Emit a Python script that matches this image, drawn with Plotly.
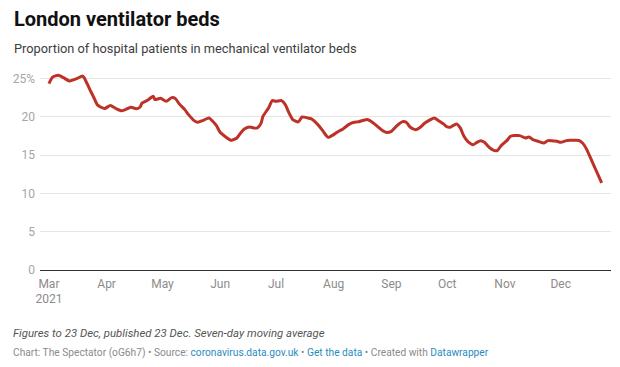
import plotly.graph_objects as go

# ---- data ----
dates = [
    "2021-03-01", "2021-03-03", "2021-03-06", "2021-03-09", "2021-03-12", "2021-03-16",
    "2021-03-19", "2021-03-20", "2021-03-23", "2021-03-25", "2021-03-27", "2021-03-29",
    "2021-03-31", "2021-04-03", "2021-04-06", "2021-04-09", "2021-04-11", "2021-04-14",
    "2021-04-17", "2021-04-19", "2021-04-20", "2021-04-23", "2021-04-26", "2021-04-27",
    "2021-04-30", "2021-05-03", "2021-05-06", "2021-05-08", "2021-05-10", "2021-05-13",
    "2021-05-15", "2021-05-18", "2021-05-20", "2021-05-23", "2021-05-26", "2021-05-28",
    "2021-05-30", "2021-06-01", "2021-06-04", "2021-06-07", "2021-06-10", "2021-06-12",
    "2021-06-14", "2021-06-17", "2021-06-19", "2021-06-21", "2021-06-23", "2021-06-24",
    "2021-06-27", "2021-06-29", "2021-07-01", "2021-07-04", "2021-07-06", "2021-07-08",
    "2021-07-10", "2021-07-13", "2021-07-15", "2021-07-18", "2021-07-20", "2021-07-23",
    "2021-07-26", "2021-07-28", "2021-07-29", "2021-08-01", "2021-08-03", "2021-08-06",
    "2021-08-09", "2021-08-12", "2021-08-14", "2021-08-17", "2021-08-19", "2021-08-21",
    "2021-08-24", "2021-08-27", "2021-08-29", "2021-09-01", "2021-09-04", "2021-09-07",
    "2021-09-09", "2021-09-11", "2021-09-14", "2021-09-16", "2021-09-19", "2021-09-22",
    "2021-09-24", "2021-09-26", "2021-09-29", "2021-10-01", "2021-10-03", "2021-10-06",
    "2021-10-08", "2021-10-10", "2021-10-12", "2021-10-15", "2021-10-17", "2021-10-19",
    "2021-10-21", "2021-10-23", "2021-10-26", "2021-10-28", "2021-10-30", "2021-11-02",
    "2021-11-04", "2021-11-06", "2021-11-09", "2021-11-12", "2021-11-14", "2021-11-16",
    "2021-11-19", "2021-11-22", "2021-11-24", "2021-11-26", "2021-11-29", "2021-12-01",
    "2021-12-04", "2021-12-06", "2021-12-09", "2021-12-11", "2021-12-13", "2021-12-15",
    "2021-12-17", "2021-12-19", "2021-12-21", "2021-12-23",
]
values = [
    24.35, 25.2, 25.44, 25.1, 24.7, 25.0,
    25.36, 25.1, 23.57, 22.6, 21.6, 21.26,
    21.1, 21.48, 21.1, 20.8, 20.95, 21.26,
    21.08, 21.3, 21.8, 22.17, 22.7, 22.26,
    22.43, 22.04, 22.52, 22.39, 21.7, 20.95,
    20.3, 19.52, 19.3, 19.56, 19.87, 19.43,
    18.86, 17.99, 17.38, 16.94, 17.25, 17.9,
    18.43, 18.69, 18.56, 18.56, 19.2, 20.08,
    21.17, 22.13, 22.04, 22.13, 21.6, 20.52,
    19.65, 19.35, 20.0, 19.87, 19.74, 19.12,
    18.25, 17.56, 17.33, 17.69, 18.04, 18.43,
    18.99, 19.3, 19.35, 19.56, 19.65, 19.43,
    18.86, 18.25, 17.99, 18.12, 18.86, 19.39,
    19.3, 18.69, 18.34, 18.55, 19.2, 19.65,
    19.87, 19.56, 19.09, 18.69, 18.69, 19.09,
    18.56, 17.47, 16.81, 16.38, 16.68, 16.9,
    16.68, 16.16, 15.63, 15.63, 16.25, 16.9,
    17.47, 17.56, 17.56, 17.25, 17.38, 17.03,
    16.81, 16.6, 16.9, 16.9, 16.81, 16.68,
    16.9, 16.94, 16.94, 16.9, 16.51, 15.73,
    14.64, 13.54, 12.46, 11.37,
]
tick_dates = ["2021-03-01", "2021-04-01", "2021-05-01", "2021-06-01", "2021-07-01",
              "2021-08-01", "2021-09-01", "2021-10-01", "2021-11-01", "2021-12-01"]
tick_labels = ["Mar<br>2021", "Apr", "May", "Jun", "Jul", "Aug", "Sep", "Oct", "Nov", "Dec"]
y_ticks = [0, 5, 10, 15, 20, 25]
y_tick_labels = ["0", "5", "10", "15", "20", "25%"]

title = "London ventilator beds"
subtitle = "Proportion of hospital patients in mechanical ventilator beds"
note = "Figures to 23 Dec, published 23 Dec. Seven-day moving average"
credit = ("Chart: The Spectator (oG6h7) • Source: "
          "<span style='color:#2a8bc0'>coronavirus.data.gov.uk</span> • "
          "<span style='color:#2a8bc0'>Get the data</span> • Created with "
          "<span style='color:#2a8bc0'>Datawrapper</span>")

# ---- layout geometry ----
W, H = 620, 367
L, R, T, B = 40, 9, 71.4, 96.7
PW, PH = W - L - R, H - T - B
FONT = "Roboto, 'Noto Sans', Arial, sans-serif"


def px(x):
    return (x - L) / PW


def py(y):
    return (H - B - y) / PH


fig = go.Figure()
fig.add_trace(go.Scatter(
    x=dates, y=values, mode="lines",
    line=dict(color="#bd3127", width=3, shape="spline", smoothing=0.6),
    hoverinfo="skip", showlegend=False,
))

fig.update_layout(
    width=W, height=H,
    margin=dict(l=L, r=R, t=T, b=B, pad=0, autoexpand=False),
    paper_bgcolor="white", plot_bgcolor="white",
    font=dict(family=FONT, color="#333"),
    showlegend=False,
    xaxis=dict(
        type="date", automargin=False,
        range=["2021-02-24 05:00", "2021-12-28"],
        tickmode="array", tickvals=tick_dates, ticktext=tick_labels,
        showgrid=False, zeroline=False,
        showline=True, linecolor="#333333", linewidth=1.3,
        ticks="", ticklabelstandoff=2,
        tickfont=dict(family=FONT, size=12, color="#8c8c8c"),
        fixedrange=True,
    ),
    yaxis=dict(
        range=[0, 26], automargin=False,
        tickmode="array", tickvals=y_ticks, ticktext=y_tick_labels,
        showgrid=True, gridcolor="#e6e6e6", gridwidth=1,
        zeroline=False, showline=False,
        ticks="", ticklabelstandoff=4,
        tickfont=dict(family=FONT, size=12, color="#a6a6a6"),
        fixedrange=True,
    ),
    annotations=[
        dict(text="<b>" + title + "</b>", x=px(12), y=py(19), xref="paper", yref="paper",
             xanchor="left", yanchor="middle", showarrow=False,
             font=dict(family=FONT, size=20, color="#111")),
        dict(text=subtitle, x=px(12), y=py(49), xref="paper", yref="paper",
             xanchor="left", yanchor="middle", showarrow=False,
             font=dict(family=FONT, size=12.8, color="#3d3d3d")),
        dict(text="<i>" + note + "</i>", x=px(11), y=py(333), xref="paper", yref="paper",
             xanchor="left", yanchor="middle", showarrow=False,
             font=dict(family=FONT, size=11.4, color="#555")),
        dict(text=credit, x=px(11), y=py(353), xref="paper", yref="paper",
             xanchor="left", yanchor="middle", showarrow=False,
             font=dict(family=FONT, size=10.2, color="#8a8a8a")),
    ],
)

fig.write_html("out.html", config={"displayModeBar": False},
               post_script="document.body.style.margin='0';")
